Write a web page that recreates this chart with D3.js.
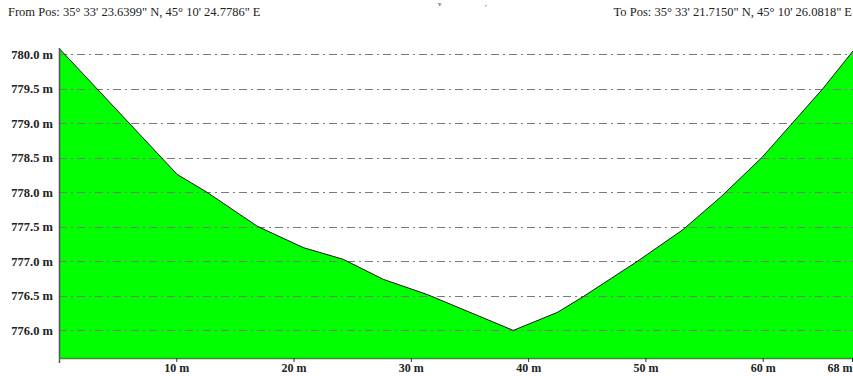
<!DOCTYPE html>
<html>
<head>
<meta charset="utf-8">
<script src="https://cdn.jsdelivr.net/npm/d3@7"></script>
<style>
  html, body { margin: 0; padding: 0; background: #fff; overflow: hidden; }
  svg { display: block; }
  text { font-family: "Liberation Serif", "Times New Roman", serif; fill: #222; }
</style>
</head>
<body>
<svg id="chart" width="853" height="376"></svg>
<script>
// ---- data ----
const distances = [0, 10.08, 12.64, 16.9, 20.83, 24.24, 27.65, 31.4, 38.73, 42.48, 44.7, 49.3, 53.2, 56.4, 59.96, 65.16, 67.7];
const elevations = [780.09, 778.26, 778.0, 777.51, 777.2, 777.03, 776.74, 776.52, 776.0, 776.26, 776.49, 777.0, 777.46, 777.93, 778.51, 779.51, 780.05];
const yTicks = [776.0, 776.5, 777.0, 777.5, 778.0, 778.5, 779.0, 779.5, 780.0];
const xTicks = [10, 20, 30, 40, 50, 60, 67.7];
const xTickLabels = ["10 m", "20 m", "30 m", "40 m", "50 m", "60 m", "68 m"];
const fromLabel = "From Pos: 35\u00B0 33' 23.6399\" N, 45\u00B0 10' 24.7786\" E";
const toLabel = "To Pos: 35\u00B0 33' 21.7150\" N, 45\u00B0 10' 26.0818\" E";

const svg = d3.select("#chart");
const left = 59, right = 853, bottom = 358;
const yMinVal = 775.6, yMaxVal = 780.0;
const pxPerUnit = 69;

const x = d3.scaleLinear().domain([0, 67.7]).range([left, right]);
const y = d3.scaleLinear().domain([yMinVal, yMaxVal]).range([bottom, bottom - (yMaxVal - yMinVal) * pxPerUnit]);

const pts = distances.map((d, i) => ({ d, e: elevations[i] }));

// header texts
svg.append("text").attr("x", 8).attr("y", 16).attr("font-size", 12.5).text(fromLabel);
svg.append("text").attr("x", 852).attr("y", 16).attr("font-size", 12.5).attr("text-anchor", "end").text(toLabel);
svg.append("text").attr("x", 438).attr("y", 6).attr("font-size", 7).attr("fill", "#000").text("v");
svg.append("text").attr("x", 485).attr("y", 6).attr("font-size", 7).attr("fill", "#000").text(",");

// area
const area = d3.area().x(p => x(p.d)).y0(bottom).y1(p => y(p.e));
svg.append("path").datum(pts).attr("d", area).attr("fill", "#00ff00");

// gridlines (drawn over fill)
svg.append("g").selectAll("line").data(yTicks).join("line")
  .attr("x1", left).attr("x2", right)
  .attr("y1", d => Math.round(y(d)) + 0.5).attr("y2", d => Math.round(y(d)) + 0.5)
  .attr("stroke", "#7a7a7a").attr("stroke-width", 1)
  .attr("stroke-dasharray", "8,4,2,4");

// profile line
const line = d3.line().x(p => x(p.d)).y(p => y(p.e));
svg.append("path").datum(pts).attr("d", line).attr("fill", "none")
  .attr("stroke", "#1a1a1a").attr("stroke-width", 1);

// y axis
const yAxis = d3.axisLeft(y).tickValues(yTicks).tickSize(0).tickPadding(6)
  .tickFormat(d => d3.format(".1f")(d) + " m");
const gy = svg.append("g").attr("transform", `translate(${left},0)`).call(yAxis);
gy.select(".domain").remove();
gy.selectAll("text").attr("font-size", 12.5).attr("font-weight", "bold").attr("fill", "#222");
svg.append("line").attr("x1", left + 0.5).attr("x2", left + 0.5)
  .attr("y1", y(780.09)).attr("y2", bottom + 5).attr("stroke", "#555").attr("stroke-width", 1.5);

// x axis
const xAxis = d3.axisBottom(x).tickValues(xTicks).tickSize(4).tickPadding(1)
  .tickFormat((d, i) => xTickLabels[i]);
const gx = svg.append("g").attr("transform", `translate(0,${bottom})`).call(xAxis);
gx.select(".domain").attr("stroke", "#3a8a3a").attr("stroke-width", 1.5).attr("d", `M${left},0.5H${right}`);
gx.selectAll(".tick line").attr("stroke", "#333");
gx.selectAll("text").attr("font-size", 12).attr("font-weight", "bold").attr("fill", "#222");
gx.selectAll(".tick").filter((d, i) => i === xTicks.length - 1).select("text").attr("text-anchor", "end").attr("dx", -1);
gx.selectAll(".tick").filter((d, i) => i === xTicks.length - 1).select("line").attr("transform", "translate(-1,0)");
</script>
</body>
</html>
